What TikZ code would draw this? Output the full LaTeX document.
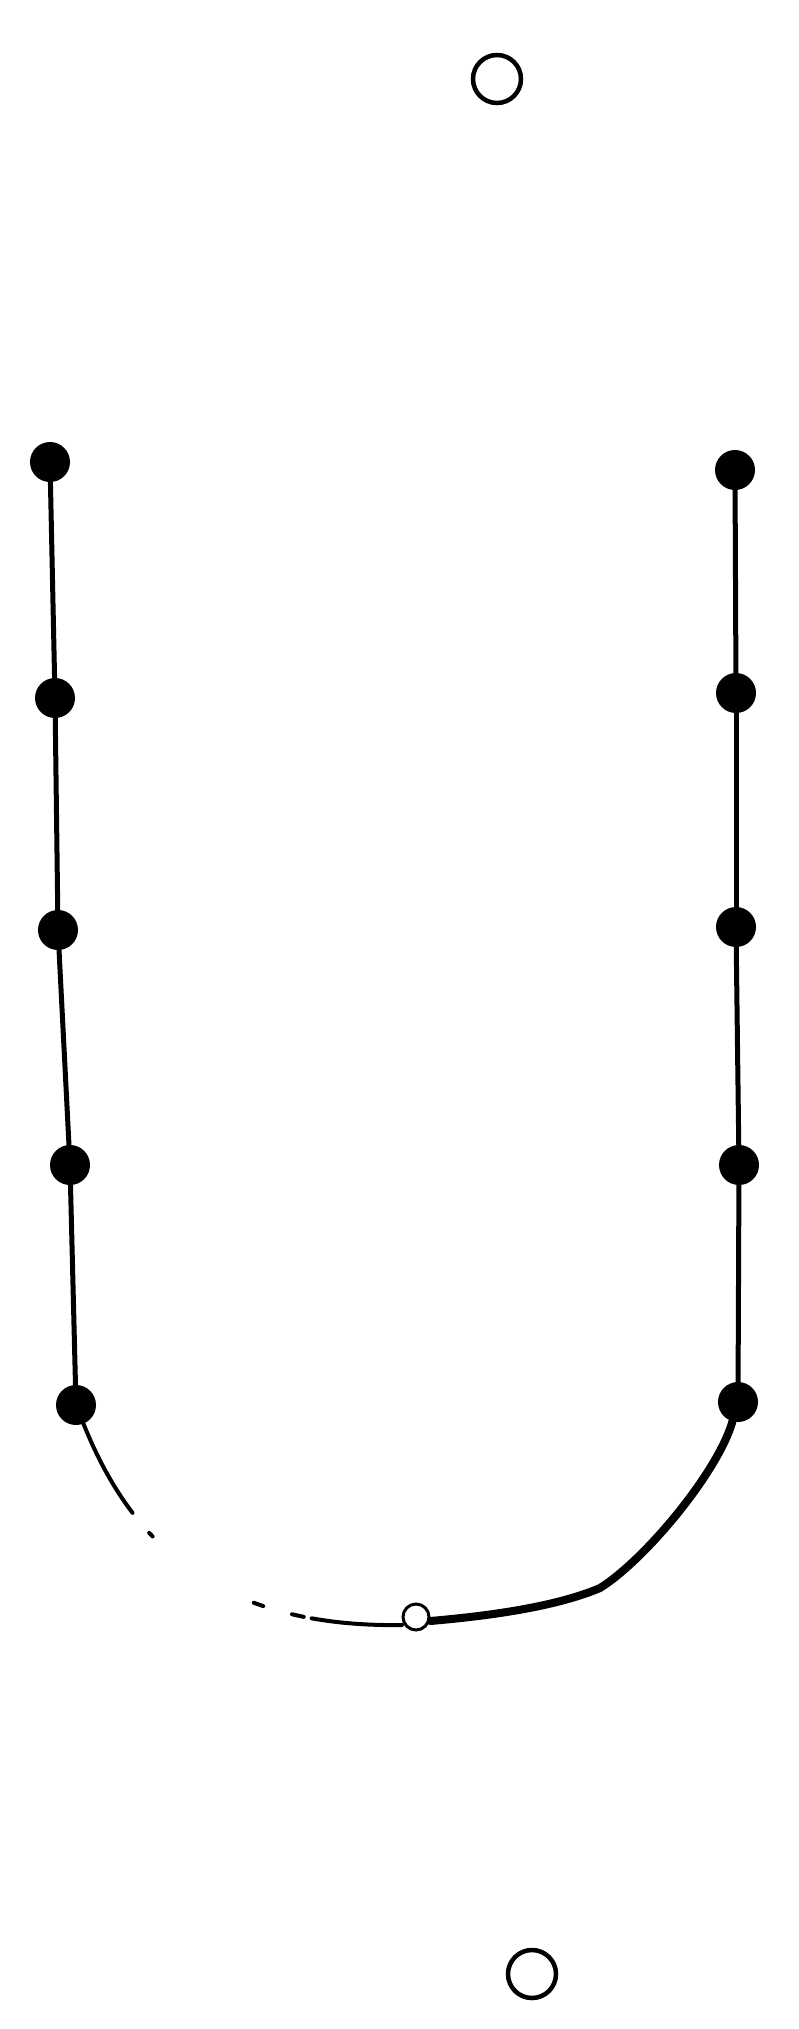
\documentclass[tikz,border=0pt]{standalone}
\begin{document}
\begin{tikzpicture}[x=1pt,y=-1pt,
  dot/.style={circle,fill=black,draw=none,minimum size=40pt,inner sep=0pt},
  ring/.style={circle,draw=black,fill=white,line width=4.5pt,minimum size=48pt,inner sep=0pt},
  smallring/.style={circle,draw=black,fill=white,line width=3pt,minimum size=26pt,inner sep=0pt},
  wire/.style={line width=5pt,line cap=round},
  thinwire/.style={line width=4pt,line cap=round},
  thickwire/.style={line width=8pt,line cap=round,line join=round}]
\useasboundingbox (0,0) rectangle (799,2029);
\fill[white] (0,0) rectangle (799,2029);
% open circles top and bottom
\node[ring] (T) at (497,79) {};
\node[ring] (Bo) at (532,1974) {};
% left column
\node[dot] (L1) at (50,462) {};
\node[dot] (L2) at (55,698) {};
\node[dot] (L3) at (58,930) {};
\node[dot] (L4) at (70,1165) {};
\node[dot] (L5) at (76,1405) {};
% right column
\node[dot] (R1) at (735,470) {};
\node[dot] (R2) at (736,693) {};
\node[dot] (R3) at (736,927) {};
\node[dot] (R4) at (739,1165) {};
\node[dot] (R5) at (738,1402) {};
% connectors
\draw[wire] (L1) -- (L2);
\draw[wire] (L2) -- (L3);
\draw[wire] (L3) -- (L4);
\draw[wire] (L4) -- (L5);
\draw[wire] (R1) -- (R2);
\draw[wire] (R2) -- (R3);
\draw[wire] (R3) -- (R4);
\draw[wire] (R4) -- (R5);
% bottom curve
\coordinate (BL) at (402,1625);
\coordinate (BR) at (430,1621);
\coordinate (K) at (600,1588);
\draw[thinwire,dash pattern=on 102pt off 26pt on 5pt off 122pt on 10pt off 30pt on 12pt off 8pt on 300pt]
  (L5) .. controls (128,1535) and (210,1628) .. (BL);
\draw[thickwire] (BR) .. controls (500,1615) and (560,1605) .. (K)
  .. controls (645,1560) and (718,1472) .. (R5);
\node[smallring] (B) at (416,1617) {};
\end{tikzpicture}
\end{document}
